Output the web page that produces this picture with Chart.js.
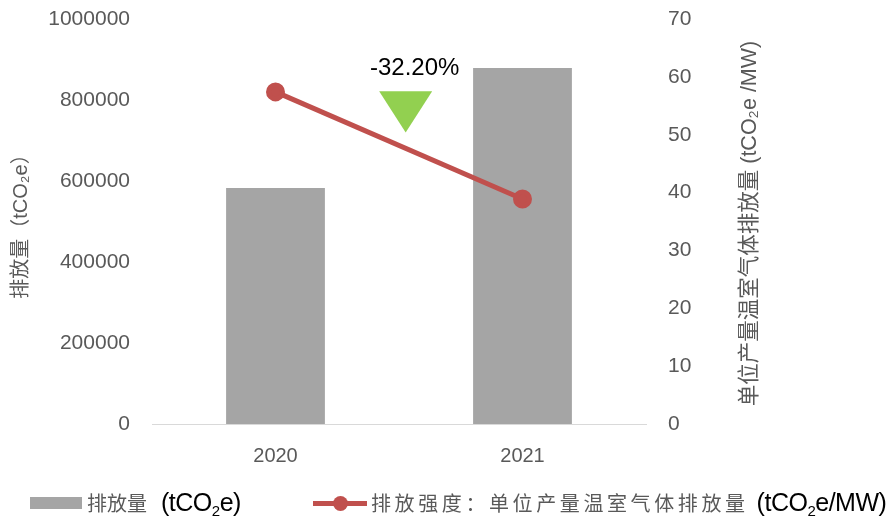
<!DOCTYPE html>
<html>
<head>
<meta charset="utf-8">
<script src="https://cdn.jsdelivr.net/npm/chart.js@4/dist/chart.umd.min.js"></script>
<style>
  body { margin: 0; background: #fff; }
  .wrap { position: relative; width: 895px; height: 519px; font-family: "Liberation Sans", "Noto Sans CJK SC", sans-serif; }
  .legend { position: absolute; left: 0; top: 487px; width: 895px; height: 30px; }
  .legend .item { position: absolute; top: 0; white-space: nowrap; line-height: 30px; }
  .legend .zh { font-size: 20px; color: #595959; }
  .legend .en { font-size: 25px; color: #000; letter-spacing: -0.5px; }
  .legend .box { position: absolute; width: 52px; height: 12px; background: #a5a5a5; top: 10px; }
  .legend .ln { position: absolute; width: 54px; height: 5px; background: #c0504d; top: 14px; }
  .legend .dot { position: absolute; width: 15px; height: 15px; border-radius: 50%; background: #c0504d; top: 9px; }
  sub { font-size: 15px; vertical-align: -5px; }
</style>
</head>
<body>
<div class="wrap">
  <canvas id="chart"></canvas>
  <div class="legend">
    <div class="box" style="left:30px"></div>
    <div class="item" style="left:87px"><span class="zh">排放量</span><span class="en" style="margin-left:14px">(tCO<sub>2</sub>e)</span></div>
    <div class="ln" style="left:313px"></div>
    <div class="dot" style="left:333px"></div>
    <div class="item" style="left:371px"><span class="zh" style="letter-spacing:3.6px">排放强度：单位产量温室气体排放量</span><span class="en" style="margin-left:8px">(tCO<sub>2</sub>e/MW)</span></div>
  </div>
</div>
<script>
// 데이터
var years = ['2020', '2021'];
var emissions = [583000, 879000];
var intensity = [57.4, 38.9];
var changeLabel = '-32.20%';
var leftTicks = [0, 200000, 400000, 600000, 800000, 1000000];
var rightTicks = [0, 10, 20, 30, 40, 50, 60, 70];
var rightTitle = '单位产量温室气体排放量 (tCO₂e /MW)';

var fontFam = '"Liberation Sans", "Noto Sans CJK SC", sans-serif';
var tickColor = '#595959';

// 하락 표시 (삼각형 + 라벨) + 오른쪽 축 제목
var dropMark = {
    id: 'dropMark',
    afterDatasetsDraw: function(chart) {
        var ctx = chart.ctx;
        var x = chart.scales.x.getPixelForValue(0.527);
        var yr = chart.scales.y2;
        var top = yr.getPixelForValue(57.5);
        var bot = yr.getPixelForValue(50.4);
        var half = 26.5;
        ctx.save();
        ctx.fillStyle = '#92d050';
        ctx.beginPath();
        ctx.moveTo(x - half, top);
        ctx.lineTo(x + half, top);
        ctx.lineTo(x, bot);
        ctx.closePath();
        ctx.fill();
        ctx.fillStyle = '#000';
        ctx.font = '24px ' + fontFam;
        ctx.textAlign = 'center';
        ctx.textBaseline = 'middle';
        ctx.fillText(changeLabel, x + 9, yr.getPixelForValue(61.4));

        // 오른쪽 축 제목 (아래에서 위로)
        ctx.translate(yr.left + 104, (chart.chartArea.top + chart.chartArea.bottom) / 2 + 2);
        ctx.rotate(-Math.PI / 2);
        ctx.fillStyle = tickColor;
        ctx.font = '21.5px ' + fontFam;
        ctx.fillText(rightTitle, 0, 0);
        ctx.restore();
    }
};

// 세로축 위아래 여백 제거
function noPad(s) { s.paddingTop = 0; s.paddingBottom = 0; }

var ctx = document.getElementById('chart');
var chart = new Chart(ctx, {
    data: {
        labels: years,
        datasets: [
            {
                type: 'line',
                label: '排放强度',
                data: intensity,
                yAxisID: 'y2',
                borderColor: '#c0504d',
                backgroundColor: '#c0504d',
                pointBackgroundColor: '#c0504d',
                pointBorderColor: '#c0504d',
                borderWidth: 5,
                pointRadius: 7,
                order: 0
            },
            {
                type: 'bar',
                label: '排放量',
                data: emissions,
                yAxisID: 'y',
                backgroundColor: '#a5a5a5',
                barPercentage: 0.4,
                categoryPercentage: 1,
                order: 1
            }
        ]
    },
    options: {
        responsive: true,
        maintainAspectRatio: false,
        animation: false,
        layout: { padding: { top: 19, right: 0, bottom: 0, left: 0 } },
        plugins: {
            legend: { display: false },
            tooltip: { enabled: false }
        },
        scales: {
            x: {
                grid: { display: false, drawTicks: false },
                border: { color: '#d9d9d9', width: 1 },
                ticks: { color: tickColor, font: { size: 20, family: fontFam }, padding: 20 },
                afterFit: function(s) { s.height = 95; }
            },
            y: {
                position: 'left',
                min: 0,
                max: 1000000,
                afterBuildTicks: function(s) { s.ticks = leftTicks.map(function(v){ return { value: v }; }); },
                grid: { display: false, drawTicks: false },
                border: { display: false },
                ticks: { color: tickColor, font: { size: 21, family: fontFam }, padding: 22,
                    callback: function(v) { return String(v); } },
                title: { display: true, text: '排放量（tCO₂e）', color: tickColor, font: { size: 20, family: fontFam }, padding: { top: 9, bottom: 0 } },
                afterFit: function(s) { s.width = 152; noPad(s); }
            },
            y2: {
                position: 'right',
                min: 0,
                max: 70,
                afterBuildTicks: function(s) { s.ticks = rightTicks.map(function(v){ return { value: v }; }); },
                grid: { display: false, drawTicks: false },
                border: { display: false },
                ticks: { color: tickColor, font: { size: 21, family: fontFam }, padding: 22 },
                afterFit: function(s) { s.width = 249; noPad(s); }
            }
        }
    },
    plugins: [dropMark]
});
</script>
</body>
</html>
